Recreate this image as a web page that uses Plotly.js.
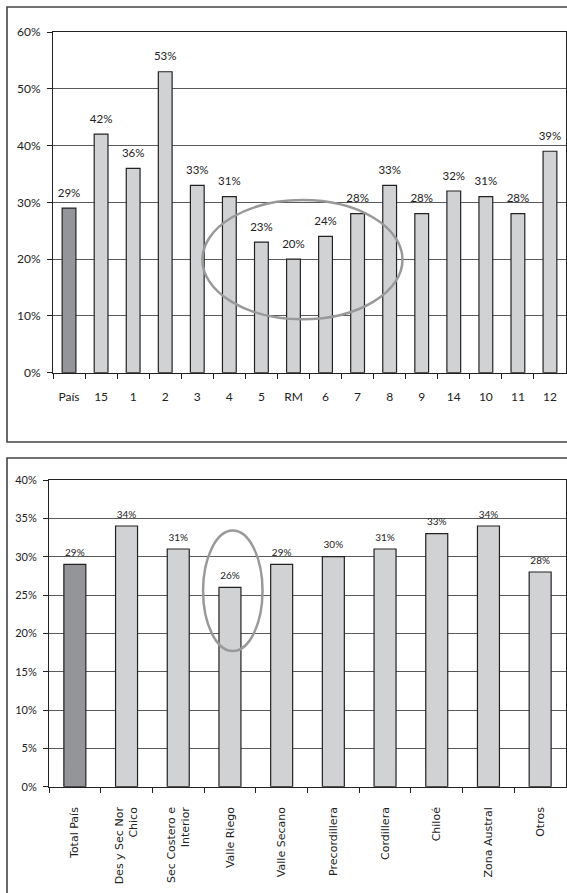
<!DOCTYPE html>
<html>
<head>
<meta charset="utf-8">
<script src="https://cdn.plot.ly/plotly-3.0.1.min.js"></script>
<style>html,body{margin:0;padding:0;background:#fff;}#chart{width:567px;height:893px;}</style>
</head>
<body>
<div id="chart"></div>
<script>
// ---- data ----
const regionCats = ["País", "15", "1", "2", "3", "4", "5", "RM", "6", "7", "8", "9", "14", "10", "11", "12"];
const regionVals = [29, 42, 36, 53, 33, 31, 23, 20, 24, 28, 33, 28, 32, 31, 28, 39];
const zoneCats = ["Total País", "Des y Sec Nor<br>Chico", "Sec Costero e<br>Interior", "Valle Riego", "Valle Secano", "Precordillera", "Cordillera", "Chiloé", "Zona Austral", "Otros"];
const zoneVals = [29, 34, 31, 26, 29, 30, 31, 33, 34, 28];

// ---- styles ----
const DARK = '#939598', LIGHT = '#d1d2d4', EDGE = '#222222';
const W = 567, H = 893;
const px = v => v / W, py = v => 1 - v / H;

const barStyle = (n) => ({
  color: Array.from({length: n}, (_, i) => i === 0 ? DARK : LIGHT),
  line: {color: EDGE, width: 1.2}
});

const traces = [
  {type: 'bar', x: regionCats, y: regionVals, xaxis: 'x', yaxis: 'y', width: 0.43,
   marker: barStyle(regionCats.length), hoverinfo: 'skip'},
  {type: 'scatter', mode: 'markers+text', x: regionCats, y: regionVals, xaxis: 'x', yaxis: 'y',
   text: regionVals.map(v => v + '%'), textposition: 'top center', cliponaxis: false,
   marker: {size: 12, opacity: 0}, textfont: {family: 'Lato', size: 11.5, color: '#222'}, hoverinfo: 'skip'},
  {type: 'bar', x: zoneCats, y: zoneVals, xaxis: 'x2', yaxis: 'y2', width: 0.425,
   marker: barStyle(zoneCats.length), hoverinfo: 'skip'},
  {type: 'scatter', mode: 'markers+text', x: zoneCats, y: zoneVals, xaxis: 'x2', yaxis: 'y2',
   text: zoneVals.map(v => v + '%'), textposition: 'top center', cliponaxis: false,
   marker: {size: 8, opacity: 0}, textfont: {family: 'Lato', size: 10, color: '#222'}, hoverinfo: 'skip'}
];

const axisCommon = {showline: true, linecolor: EDGE, linewidth: 1, mirror: true, ticks: 'outside', ticklen: 5, tickcolor: EDGE, zeroline: false};

const layout = {
  width: W, height: H,
  margin: {l: 0, r: 0, t: 0, b: 0},
  paper_bgcolor: '#fff', plot_bgcolor: '#fff',
  showlegend: false,
  xaxis: Object.assign({}, axisCommon, {
    domain: [px(53), px(566)], anchor: 'y', type: 'category', range: [-0.5, 15.5],
    tickson: 'boundaries', showgrid: false, ticklabelstandoff: 13,
    tickfont: {family: 'Lato', size: 12, color: '#222'}
  }),
  yaxis: Object.assign({}, axisCommon, {
    domain: [py(372.7), py(32)], anchor: 'x', range: [0, 60], dtick: 10, ticksuffix: '%',
    showgrid: true, gridcolor: '#5a5a5a', gridwidth: 1, ticklabelstandoff: 4,
    tickfont: {family: 'Lato', size: 12, color: '#222'}
  }),
  xaxis2: Object.assign({}, axisCommon, {
    domain: [px(49), px(566)], anchor: 'y2', type: 'category', range: [-0.5, 9.5],
    tickson: 'boundaries', showgrid: false, tickangle: -90, ticklabelstandoff: 15,
    tickfont: {family: 'DejaVu Sans, Verdana, sans-serif', size: 11, color: '#222'}
  }),
  yaxis2: Object.assign({}, axisCommon, {
    domain: [py(786.7), py(480)], anchor: 'x2', range: [0, 40], dtick: 5, ticksuffix: '%',
    showgrid: true, gridcolor: '#5a5a5a', gridwidth: 1, ticklabelstandoff: 4,
    tickfont: {family: 'Lato', size: 11, color: '#222'}
  }),
  shapes: [
    {type: 'rect', xref: 'paper', yref: 'paper', x0: px(7), x1: px(580), y0: py(442), y1: py(7),
     line: {color: '#444', width: 1.6}, fillcolor: 'rgba(0,0,0,0)', layer: 'below'},
    {type: 'rect', xref: 'paper', yref: 'paper', x0: px(7), x1: px(580), y0: py(910), y1: py(458),
     line: {color: '#444', width: 1.6}, fillcolor: 'rgba(0,0,0,0)', layer: 'below'},
    {type: 'circle', xref: 'x', yref: 'y', x0: 4.16, x1: 10.4, y0: 9.4, y1: 30.4,
     line: {color: '#999', width: 2.5}},
    {type: 'circle', xref: 'x2', yref: 'y2', x0: 2.48, x1: 3.63, y0: 17.7, y1: 33.4,
     line: {color: '#999', width: 2.5}}
  ]
};

Plotly.newPlot('chart', traces, layout, {staticPlot: true, displayModeBar: false});
</script>
</body>
</html>
